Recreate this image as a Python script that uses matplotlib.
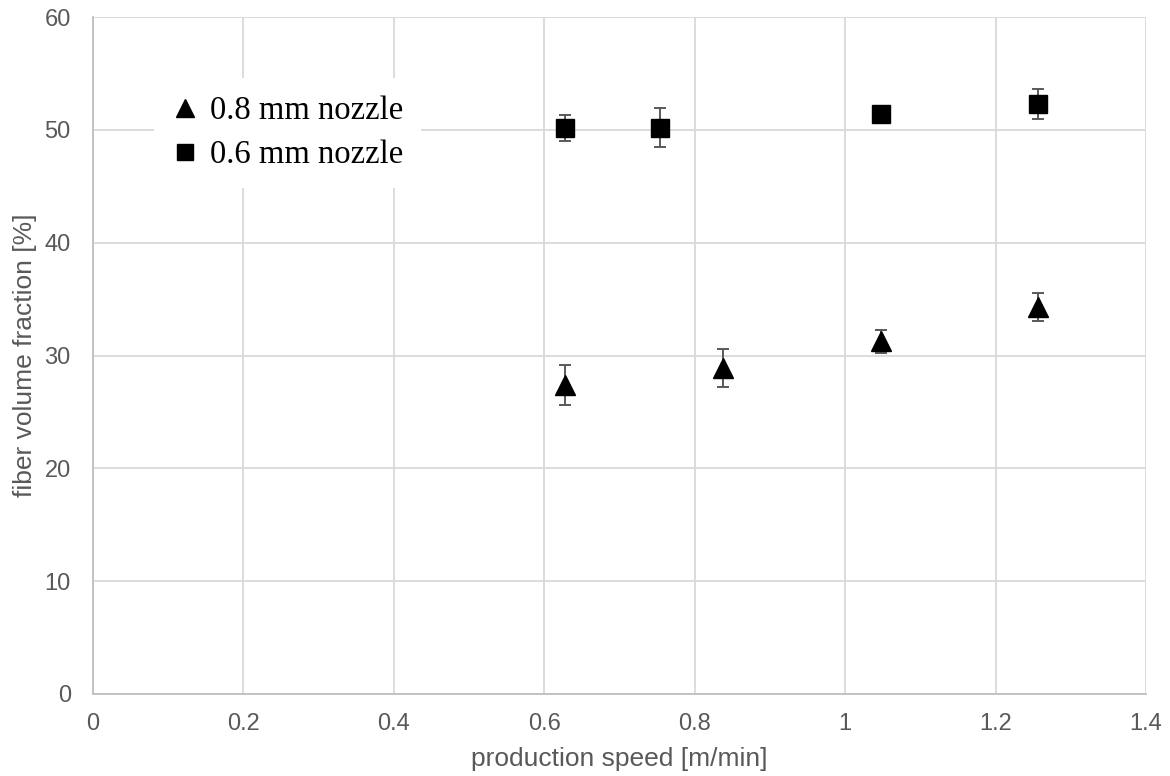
import matplotlib.pyplot as plt
import matplotlib
from matplotlib.lines import Line2D
from matplotlib.ticker import FuncFormatter
import numpy as np

matplotlib.rcParams['font.family'] = ['Liberation Sans', 'DejaVu Sans']

# 0.8 mm nozzle (triangles)
speed_08 = [0.628, 0.838, 1.047, 1.257]
vf_08 = [27.4, 28.9, 31.25, 34.3]
err_08 = [1.8, 1.7, 1.05, 1.2]

# 0.6 mm nozzle (squares)
speed_06 = [0.628, 0.754, 1.047, 1.257]
vf_06 = [50.2, 50.2, 51.4, 52.3]
err_06 = [1.15, 1.7, 0.5, 1.35]

x_ticks = np.arange(0, 1.41, 0.2)
y_ticks = np.arange(0, 61, 10)

grid_c = "#d9d9d9"
text_c = "#595959"

fig = plt.figure(figsize=(11.7, 7.76), dpi=100)
ax = fig.add_axes([0.0795, 0.1057, 0.9, 0.8723])

ax.errorbar(speed_08, vf_08, yerr=err_08, fmt='^', color='black', ms=14,
            ecolor=text_c, elinewidth=1.4, capsize=4.5, capthick=1.4, zorder=3)
ax.errorbar(speed_06, vf_06, yerr=err_06, fmt='s', color='black', ms=13,
            ecolor=text_c, elinewidth=1.4, capsize=4.5, capthick=1.4, zorder=3)

ax.set_xlim(0, 1.4)
ax.set_ylim(0, 60)
ax.set_xticks(x_ticks)
ax.set_yticks(y_ticks)
ax.xaxis.set_major_formatter(FuncFormatter(lambda v, p: "{:g}".format(round(v, 2))))
ax.grid(True, color=grid_c, linewidth=1.3)
ax.set_axisbelow(True)
for s in ["top", "right"]:
    ax.spines[s].set_visible(False)
for s in ["left", "bottom"]:
    ax.spines[s].set_color("#bfbfbf")
    ax.spines[s].set_linewidth(1.3)
ax.tick_params(length=0, labelsize=17, labelcolor=text_c)
ax.tick_params(axis='x', pad=14)
ax.tick_params(axis='y', pad=16)

ax.set_xlabel("production speed [m/min]", fontsize=19, color=text_c, labelpad=8)
ax.set_ylabel("fiber volume fraction [%]", fontsize=19, color=text_c, labelpad=5)

handles = [Line2D([], [], marker='^', color='black', ls='none', ms=13),
           Line2D([], [], marker='s', color='black', ls='none', ms=11)]
labels = ["0.8 mm nozzle", "0.6 mm nozzle"]
leg = ax.legend(handles, labels, loc='upper left', bbox_to_anchor=(0.058, 0.91),
                prop={'family': ['Liberation Serif'], 'size': 23.5},
                frameon=True, facecolor='white', edgecolor='none', framealpha=1,
                fancybox=False, handlelength=0.8, handletextpad=0.35,
                labelspacing=0.4, borderpad=0.55, borderaxespad=0)

fig.savefig("out.png", dpi=100)
